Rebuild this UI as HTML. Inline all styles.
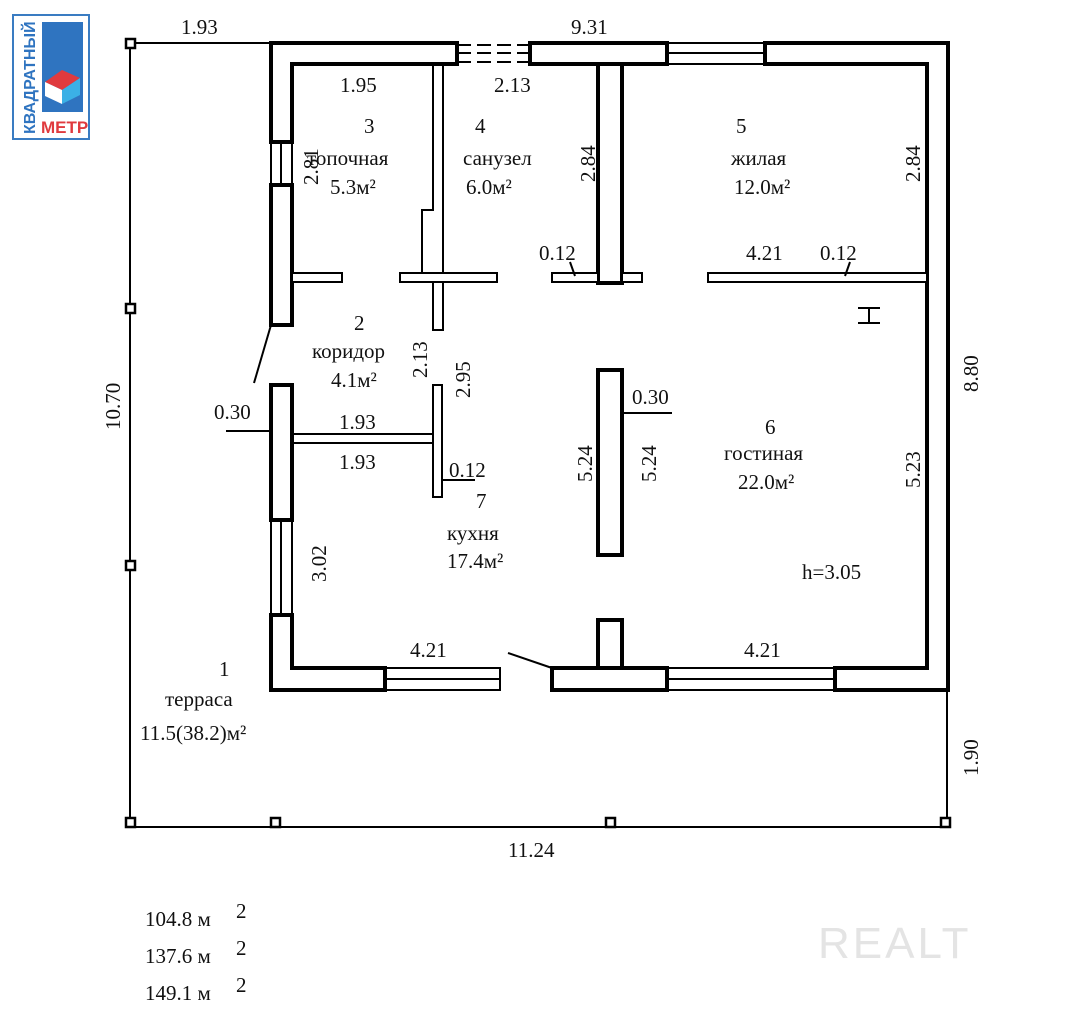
<!DOCTYPE html>
<html><head><meta charset="utf-8"><style>
body{margin:0;background:#fff}
svg text{font-family:"Liberation Serif",serif;font-size:21px;fill:#111}
</style></head><body>
<svg width="1085" height="1024" viewBox="0 0 1085 1024" xmlns="http://www.w3.org/2000/svg">
<!-- logo -->
<rect x="13" y="15" width="76" height="124" fill="#fff" stroke="#3a7cc2" stroke-width="2"/>
<rect x="42" y="22" width="41" height="90" fill="#2f74c0"/>
<polygon points="45,82 62,70 80,78 62,90" fill="#e03a3e"/>
<polygon points="45,82 62,90 62,104 45,96" fill="#fff"/>
<polygon points="62,90 80,78 80,95 62,104" fill="#3bb0e6"/>
<text x="0" y="0" transform="translate(35,134) rotate(-90)" style="font-family:'Liberation Sans',sans-serif;font-size:16px;font-weight:bold;fill:#2f74c0">КВАДРАТНЫЙ</text>
<text x="41" y="133" style="font-family:'Liberation Sans',sans-serif;font-size:17px;font-weight:bold;fill:#e03a3e">МЕТР</text>

<g stroke="#000" fill="none" stroke-width="2">
<polyline points="272,43 130,43 130,827 947,827 947,690"/>
<g fill="#fff" stroke-width="2.5">
<rect x="126" y="39" width="9" height="9"/><rect x="126" y="304" width="9" height="9"/>
<rect x="126" y="561" width="9" height="9"/><rect x="126" y="818" width="9" height="9"/>
<rect x="271" y="818" width="9" height="9"/><rect x="606" y="818" width="9" height="9"/>
<rect x="941" y="818" width="9" height="9"/>
</g>
<g stroke-width="4" fill="#fff">
<path d="M457,43 H271 V142 H292 V64 H457 Z"/>
<rect x="530" y="43" width="137" height="21"/>
<path d="M765,43 H948 V690 H835 V668 H927 V64 H765 Z"/>
<rect x="271" y="185" width="21" height="140"/>
<rect x="271" y="385" width="21" height="135"/>
<path d="M271,615 V690 H385 V668 H292 V615 Z"/>
<rect x="552" y="668" width="115" height="22"/>
<rect x="598" y="620" width="24" height="48"/>
<rect x="598" y="64" width="24" height="219"/>
<rect x="598" y="370" width="24" height="185"/>
</g>
<g stroke-width="2">
<rect x="271" y="142" width="21" height="43"/><line x1="281" y1="142" x2="281" y2="185"/>
<rect x="271" y="520" width="21" height="95"/><line x1="281" y1="520" x2="281" y2="615"/>
<rect x="385" y="668" width="115" height="22"/><line x1="385" y1="679" x2="500" y2="679"/>
<rect x="667" y="668" width="168" height="22"/><line x1="667" y1="679" x2="835" y2="679"/>
<rect x="667" y="43" width="98" height="21"/><line x1="667" y1="53" x2="765" y2="53"/>
<line x1="457" y1="43" x2="457" y2="64"/><line x1="530" y1="43" x2="530" y2="64"/>
<line x1="457" y1="45" x2="530" y2="45" stroke-dasharray="14,6"/>
<line x1="457" y1="53" x2="530" y2="53" stroke-dasharray="14,6"/>
<line x1="457" y1="62" x2="530" y2="62" stroke-dasharray="14,6"/>
</g>
<g stroke-width="2" fill="#fff">
<path d="M433,64 V210 H422 V273 M443,64 V273"/>
<rect x="292" y="273" width="50" height="9"/>
<rect x="400" y="273" width="97" height="9"/>
<rect x="433" y="282" width="10" height="48"/>
<rect x="552" y="273" width="46" height="9"/><rect x="622" y="273" width="20" height="9"/>
<rect x="708" y="273" width="219" height="9"/>
<rect x="433" y="385" width="9" height="112"/>
<path d="M292,434 H433 M292,443 H433"/>
</g>
<line x1="271" y1="325" x2="254" y2="383"/>
<line x1="226" y1="431" x2="271" y2="431"/>
<line x1="622" y1="413" x2="672" y2="413"/>
<line x1="442" y1="480" x2="475" y2="480"/>
<line x1="508" y1="653" x2="552" y2="668"/>
<line x1="570" y1="262" x2="575" y2="276"/>
<line x1="850" y1="262" x2="845" y2="276"/>
<path d="M858,308 H880 M858,323 H880 M869,308 V323"/>
</g>

<text x="181" y="34">1.93</text>
<text x="571" y="34">9.31</text>
<text x="340" y="92">1.95</text>
<text x="494" y="92">2.13</text>
<text x="364" y="133">3</text><text x="307" y="165">топочная</text><text x="330" y="194">5.3м²</text>
<text x="475" y="133">4</text><text x="463" y="165">санузел</text><text x="466" y="194">6.0м²</text>
<text x="736" y="133">5</text><text x="731" y="165">жилая</text><text x="734" y="194">12.0м²</text>
<text x="539" y="260">0.12</text>
<text x="746" y="260">4.21</text><text x="820" y="260">0.12</text>
<text x="354" y="330">2</text><text x="312" y="358">коридор</text><text x="331" y="387">4.1м²</text>
<text x="214" y="419">0.30</text>
<text x="339" y="429">1.93</text><text x="339" y="469">1.93</text>
<text x="449" y="477">0.12</text>
<text x="632" y="404">0.30</text>
<text x="476" y="508">7</text><text x="447" y="540">кухня</text><text x="447" y="568">17.4м²</text>
<text x="765" y="434">6</text><text x="724" y="460">гостиная</text><text x="738" y="489">22.0м²</text>
<text x="802" y="579">h=3.05</text>
<text x="410" y="657">4.21</text><text x="744" y="657">4.21</text>
<text x="219" y="676">1</text><text x="165" y="706">терраса</text><text x="140" y="740">11.5(38.2)м²</text>
<text x="508" y="857">11.24</text>
<g>
<text transform="translate(318,185) rotate(-90)">2.81</text>
<text transform="translate(595,182) rotate(-90)">2.84</text>
<text transform="translate(920,182) rotate(-90)">2.84</text>
<text transform="translate(427,378) rotate(-90)">2.13</text>
<text transform="translate(470,398) rotate(-90)">2.95</text>
<text transform="translate(592,482) rotate(-90)">5.24</text>
<text transform="translate(656,482) rotate(-90)">5.24</text>
<text transform="translate(920,488) rotate(-90)">5.23</text>
<text transform="translate(326,582) rotate(-90)">3.02</text>
<text transform="translate(120,430) rotate(-90)">10.70</text>
<text transform="translate(978,392) rotate(-90)">8.80</text>
<text transform="translate(978,776) rotate(-90)">1.90</text>
</g>
<text x="145" y="926">104.8  м</text><text x="236" y="918">2</text>
<text x="145" y="963">137.6  м</text><text x="236" y="955">2</text>
<text x="145" y="1000">149.1  м</text><text x="236" y="992">2</text>
<text x="818" y="958" style="font-family:'Liberation Sans',sans-serif;font-size:44px;fill:#e4e4e4;letter-spacing:3px">REALT</text>
</svg>
</body></html>
